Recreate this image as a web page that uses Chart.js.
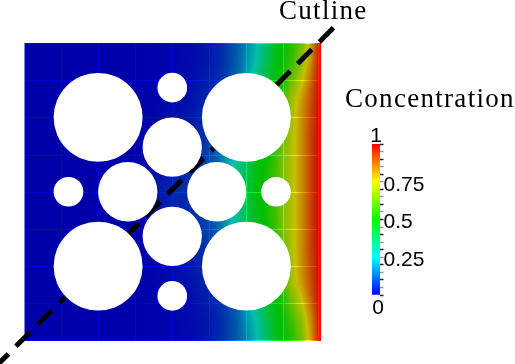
<!DOCTYPE html>
<html>
<head>
<meta charset="utf-8">
<script src="https://cdn.jsdelivr.net/npm/chart.js@4"></script>
<style>
  html, body { margin: 0; padding: 0; background: #fff; width: 515px; height: 364px; overflow: hidden; }
  canvas { position: absolute; }
  .label { position: absolute; font-family: "Liberation Serif", serif; font-size: 27px; letter-spacing: 1.3px; color: #000; line-height: 1; white-space: nowrap; }
</style>
</head>
<body>
<canvas id="fieldChart" width="515" height="364" style="left:0;top:0"></canvas>
<canvas id="barChart" width="175" height="240" style="left:340px;top:80px"></canvas>
<div class="label" style="left:279px;top:-3px">Cutline</div>
<div class="label" style="left:345px;top:85px">Concentration</div>
<script>
// domain is 8 x 8 mesh cells
const meshLines = [0, 1, 2, 3, 4, 5, 6, 7, 8];

// holes, in domain units
const holeX = [2, 6, 2, 6, 4, 4, 1.2, 6.8, 4, 4, 2.8, 5.2];
const holeY = [6, 6, 2, 2, 6.8, 1.2, 4, 4, 5.2, 2.8, 4, 4];
const holeR = [1.2, 1.2, 1.2, 1.2, 0.4, 0.4, 0.4, 0.4, 0.8, 0.8, 0.8, 0.8];

const cutlineX = [8.35, -0.75];
const cutlineY = [8.41, -0.69];

// concentration, one array per row of the domain
const fieldX = [0, 3, 4, 4.5, 5, 5.25, 5.5, 5.75, 6, 6.25, 6.5, 6.75, 7, 7.25, 7.5, 7.75, 8];
const row80 = [0, 0, .005, .01, .03, .05, .08, .12, .17, .23, .33, .44, .5, .55, .64, .8, 1];
const row75 = [0, 0, .005, .012, .03, .05, .08, .12, .18, .25, .36, .46, .51, .58, .68, .82, 1];
const row70 = [0, 0, .01, .015, .04, .06, .09, .13, .2, .3, .4, .48, .54, .64, .74, .87, 1];
const row65 = [0, 0, .012, .02, .05, .07, .11, .17, .25, .33, .43, .5, .58, .71, .8, .9, 1];
const row60 = [0, 0, .015, .03, .06, .09, .14, .2, .28, .37, .46, .52, .6, .72, .82, .91, 1];
const row55 = [0, 0, .02, .04, .07, .11, .17, .24, .31, .41, .48, .54, .63, .73, .82, .92, 1];
const row50 = [0, 0, .03, .05, .09, .13, .2, .27, .36, .46, .5, .56, .66, .73, .82, .92, 1];
const row45 = [0, 0, .04, .055, .1, .15, .23, .3, .39, .47, .51, .57, .66, .73, .82, .92, 1];
const row40 = [0, 0, .05, .06, .12, .18, .25, .34, .41, .48, .52, .58, .66, .73, .82, .92, 1];
const fieldRows = [row80, row75, row70, row65, row60, row55, row50, row45, row40, row45, row50, row55, row60, row65, row70, row75, row80];

const colorStops = [[0, 0, 0, 255], [0.25, 0, 255, 255], [0.5, 0, 255, 0], [0.75, 255, 255, 0], [1, 255, 0, 0]];
const barTicks = ['0.25', '0.5', '0.75'];
const barEnds = [0, 1];

const colorOf = (v) => {
  for (let i = 1; i < colorStops.length; i++) {
    if (v <= colorStops[i][0]) {
      const a = colorStops[i - 1], b = colorStops[i];
      const t = (v - a[0]) / (b[0] - a[0]);
      return [a[1] + (b[1] - a[1]) * t, a[2] + (b[2] - a[2]) * t, a[3] + (b[3] - a[3]) * t];
    }
  }
  return colorStops[colorStops.length - 1].slice(1);
};

const valueAt = (x, y) => {
  let c = 0;
  while (c < fieldX.length - 2 && x > fieldX[c + 1]) c++;
  const tx = Math.min(1, Math.max(0, (x - fieldX[c]) / (fieldX[c + 1] - fieldX[c])));
  const ry = Math.min(15.999, Math.max(0, (8 - y) * 2));
  const r = Math.floor(ry), ty = ry - r;
  const top = fieldRows[r][c] + (fieldRows[r][c + 1] - fieldRows[r][c]) * tx;
  const bot = fieldRows[r + 1][c] + (fieldRows[r + 1][c + 1] - fieldRows[r + 1][c]) * tx;
  return top + (bot - top) * ty;
};

// paints the concentration table, mesh lines keep more of the full colour
const fieldPlugin = {
  id: 'fieldPlugin',
  beforeDatasetsDraw(chart) {
    const { ctx, chartArea, scales } = chart;
    const left = Math.round(chartArea.left), top = Math.round(chartArea.top);
    const w = Math.round(chartArea.right) - left, h = Math.round(chartArea.bottom) - top;
    const img = ctx.createImageData(w, h);
    const meshPx = new Set(meshLines.map(m => Math.min(w - 1, Math.round(scales.x.getPixelForValue(m)) - left)));
    const meshPy = new Set(meshLines.map(m => Math.min(h - 1, Math.round(scales.y.getPixelForValue(m)) - top)));
    for (let j = 0; j < h; j++) {
      const yv = scales.y.getValueForPixel(top + j + 0.5);
      for (let i = 0; i < w; i++) {
        const xv = scales.x.getValueForPixel(left + i + 0.5);
        const c = colorOf(valueAt(xv, yv));
        const edge = i >= w - 3 || j === 0 || j === h - 1;
        const onMesh = meshPx.has(i) || meshPy.has(j);
        const shadeR = edge ? 1 : onMesh ? 0.95 : 0.78;
        const shadeG = edge ? 1 : onMesh ? 0.95 : 0.75;
        const shadeB = edge ? 1 : onMesh ? 0.85 : 0.67;
        const k = (j * w + i) * 4;
        // left border is washed out in the reference
        const wash = i === 0 ? 0.5 : 0;
        img.data[k] = c[0] * shadeR * (1 - wash) + 255 * wash;
        img.data[k + 1] = c[1] * shadeG * (1 - wash) + 255 * wash;
        img.data[k + 2] = c[2] * shadeB * (1 - wash) + 255 * wash;
        img.data[k + 3] = 255;
      }
    }
    ctx.putImageData(img, left, top);
  }
};

new Chart(document.getElementById('fieldChart'), {
  type: 'scatter',
  data: {
    datasets: [
      {
        label: 'Holes',
        data: holeX.map((x, i) => ({ x: x, y: holeY[i] })),
        backgroundColor: '#fff',
        borderWidth: 0,
        pointRadius: (c) => {
          const s = c.chart.scales.x;
          return s.getPixelForValue(holeR[c.dataIndex]) - s.getPixelForValue(0);
        }
      },
      {
        label: 'Cutline',
        data: cutlineX.map((x, i) => ({ x: x, y: cutlineY[i] })),
        showLine: true,
        borderColor: '#000',
        borderWidth: 5,
        borderDash: [20, 10.7],
        pointRadius: 0,
        clip: false
      }
    ]
  },
  options: {
    responsive: false,
    animation: false,
    layout: { padding: { left: 24, right: 194.5, top: 43, bottom: 23.5 } },
    scales: {
      x: { display: false, min: 0, max: 8 },
      y: { display: false, min: 0, max: 8 }
    },
    plugins: { legend: { display: false }, tooltip: { enabled: false } }
  },
  plugins: [fieldPlugin]
});

// 0 and 1 sit above and below the colour bar, not beside it
const barEndsPlugin = {
  id: 'barEndsPlugin',
  afterDraw(chart) {
    const { ctx, scales } = chart;
    ctx.save();
    ctx.font = '21px "Liberation Sans"';
    ctx.fillStyle = '#000';
    ctx.textAlign = 'center';
    barEnds.forEach((v) => {
      ctx.textBaseline = v === 1 ? 'bottom' : 'top';
      ctx.fillText(String(v), v === 1 ? 36 : 38, scales.y.getPixelForValue(v) + (v === 1 ? 3 : 3));
    });
    ctx.restore();
  }
};

new Chart(document.getElementById('barChart'), {
  type: 'bar',
  data: {
    labels: ['Concentration'],
    datasets: [{
      data: [[0, 1]],
      barPercentage: 1,
      categoryPercentage: 1,
      backgroundColor: (c) => {
        const s = c.chart.scales.y;
        if (!c.chart.chartArea || !s) return '#00f';
        const g = c.chart.ctx.createLinearGradient(0, c.chart.chartArea.bottom, 0, c.chart.chartArea.top);
        colorStops.forEach(st => g.addColorStop(st[0], 'rgb(' + st[1] + ',' + st[2] + ',' + st[3] + ')'));
        return g;
      }
    }]
  },
  options: {
    responsive: false,
    animation: false,
    layout: { padding: { left: 32, top: 64, bottom: 25 } },
    scales: {
      x: { display: false },
      y: {
        position: 'right',
        min: 0,
        max: 1,
        afterFit: (s) => { s.width = 135; },
        afterBuildTicks: (s) => { s.ticks = Array.from({ length: 21 }, (_, i) => ({ value: i * 0.05 })); },
        border: { display: false },
        grid: {
          drawOnChartArea: false,
          tickLength: 3.5,
          tickWidth: 1.5,
          color: (c) => (c.index % 2 === 0 ? '#222' : '#999')
        },
        ticks: {
          autoSkip: false,
          padding: 0,
          labelOffset: 3,
          color: '#000',
          font: { family: '"Liberation Sans"', size: 21 },
          callback: (v) => {
            const t = String(Math.round(v * 100) / 100);
            return barTicks.includes(t) ? t : '';
          }
        }
      }
    },
    plugins: { legend: { display: false }, tooltip: { enabled: false } }
  },
  plugins: [barEndsPlugin]
});
</script>
</body>
</html>
